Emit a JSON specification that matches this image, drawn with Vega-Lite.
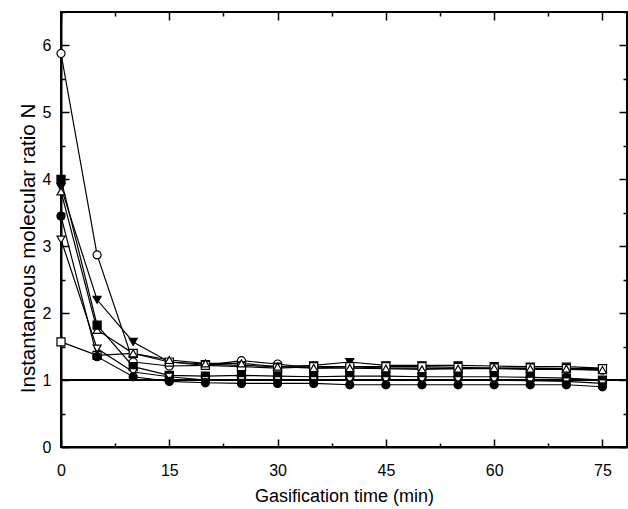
{
  "$schema": "https://vega.github.io/schema/vega-lite/v6.json",
  "autosize": "none",
  "width": 566,
  "height": 435,
  "padding": {"left": 61, "top": 12, "right": 1, "bottom": 62},
  "background": "white",
  "config": {
    "view": {"stroke": "black", "strokeWidth": 2},
    "axis": {
      "grid": false,
      "labelFlush": false,
      "domainColor": "black",
      "domainWidth": 2,
      "tickColor": "black",
      "tickWidth": 1.5,
      "labelFont": "Liberation Sans",
      "labelFontSize": 16,
      "labelColor": "black",
      "titleFont": "Liberation Sans",
      "titleFontSize": 18,
      "titleFontWeight": "normal",
      "titleColor": "black"
    }
  },
  "data": {
    "values": [
      {"s":"S1","t":0,"v":5.88},{"s":"S1","t":5,"v":2.87},{"s":"S1","t":10,"v":1.27},{"s":"S1","t":15,"v":1.21},{"s":"S1","t":20,"v":1.22},{"s":"S1","t":25,"v":1.29},{"s":"S1","t":30,"v":1.24},{"s":"S1","t":35,"v":1.18},{"s":"S1","t":40,"v":1.2},{"s":"S1","t":45,"v":1.18},{"s":"S1","t":50,"v":1.18},{"s":"S1","t":55,"v":1.17},{"s":"S1","t":60,"v":1.17},{"s":"S1","t":65,"v":1.16},{"s":"S1","t":70,"v":1.16},{"s":"S1","t":75,"v":1.15},
      {"s":"S2","t":0,"v":3.88},{"s":"S2","t":5,"v":2.2},{"s":"S2","t":10,"v":1.57},{"s":"S2","t":15,"v":1.27},{"s":"S2","t":20,"v":1.24},{"s":"S2","t":25,"v":1.22},{"s":"S2","t":30,"v":1.2},{"s":"S2","t":35,"v":1.22},{"s":"S2","t":40,"v":1.27},{"s":"S2","t":45,"v":1.22},{"s":"S2","t":50,"v":1.22},{"s":"S2","t":55,"v":1.22},{"s":"S2","t":60,"v":1.21},{"s":"S2","t":65,"v":1.2},{"s":"S2","t":70,"v":1.2},{"s":"S2","t":75,"v":1.18},
      {"s":"S3","t":0,"v":1.57},{"s":"S3","t":5,"v":1.37},{"s":"S3","t":10,"v":1.4},{"s":"S3","t":15,"v":1.27},{"s":"S3","t":20,"v":1.22},{"s":"S3","t":25,"v":1.2},{"s":"S3","t":30,"v":1.18},{"s":"S3","t":35,"v":1.2},{"s":"S3","t":40,"v":1.2},{"s":"S3","t":45,"v":1.2},{"s":"S3","t":50,"v":1.2},{"s":"S3","t":55,"v":1.19},{"s":"S3","t":60,"v":1.18},{"s":"S3","t":65,"v":1.18},{"s":"S3","t":70,"v":1.17},{"s":"S3","t":75,"v":1.17},
      {"s":"S4","t":0,"v":3.82},{"s":"S4","t":5,"v":1.75},{"s":"S4","t":10,"v":1.4},{"s":"S4","t":15,"v":1.3},{"s":"S4","t":20,"v":1.25},{"s":"S4","t":25,"v":1.25},{"s":"S4","t":30,"v":1.2},{"s":"S4","t":35,"v":1.18},{"s":"S4","t":40,"v":1.18},{"s":"S4","t":45,"v":1.17},{"s":"S4","t":50,"v":1.16},{"s":"S4","t":55,"v":1.17},{"s":"S4","t":60,"v":1.18},{"s":"S4","t":65,"v":1.17},{"s":"S4","t":70,"v":1.17},{"s":"S4","t":75,"v":1.15},
      {"s":"S5","t":0,"v":4.0},{"s":"S5","t":5,"v":1.82},{"s":"S5","t":10,"v":1.2},{"s":"S5","t":15,"v":1.07},{"s":"S5","t":20,"v":1.06},{"s":"S5","t":25,"v":1.07},{"s":"S5","t":30,"v":1.06},{"s":"S5","t":35,"v":1.05},{"s":"S5","t":40,"v":1.06},{"s":"S5","t":45,"v":1.06},{"s":"S5","t":50,"v":1.05},{"s":"S5","t":55,"v":1.05},{"s":"S5","t":60,"v":1.05},{"s":"S5","t":65,"v":1.04},{"s":"S5","t":70,"v":1.03},{"s":"S5","t":75,"v":1.0},
      {"s":"S6","t":0,"v":3.1},{"s":"S6","t":5,"v":1.47},{"s":"S6","t":10,"v":1.12},{"s":"S6","t":15,"v":1.05},{"s":"S6","t":20,"v":1.0},{"s":"S6","t":25,"v":1.0},{"s":"S6","t":30,"v":1.0},{"s":"S6","t":35,"v":1.0},{"s":"S6","t":40,"v":1.0},{"s":"S6","t":45,"v":1.0},{"s":"S6","t":50,"v":1.0},{"s":"S6","t":55,"v":1.0},{"s":"S6","t":60,"v":1.0},{"s":"S6","t":65,"v":0.99},{"s":"S6","t":70,"v":0.98},{"s":"S6","t":75,"v":0.95},
      {"s":"S7","t":0,"v":3.45},{"s":"S7","t":5,"v":1.35},{"s":"S7","t":10,"v":1.05},{"s":"S7","t":15,"v":0.98},{"s":"S7","t":20,"v":0.96},{"s":"S7","t":25,"v":0.95},{"s":"S7","t":30,"v":0.95},{"s":"S7","t":35,"v":0.95},{"s":"S7","t":40,"v":0.93},{"s":"S7","t":45,"v":0.93},{"s":"S7","t":50,"v":0.93},{"s":"S7","t":55,"v":0.93},{"s":"S7","t":60,"v":0.93},{"s":"S7","t":65,"v":0.93},{"s":"S7","t":70,"v":0.93},{"s":"S7","t":75,"v":0.9}
    ]
  },
  "resolve": {"axis": {"x": "independent", "y": "independent"}},
  "layer": [
    {
      "mark": {"type": "rule", "color": "black", "strokeWidth": 1.5},
      "encoding": {
        "y": {"datum": 1, "type": "quantitative", "scale": {"domain": [0, 6.5], "nice": false},
          "axis": {"orient": "right", "labels": false, "title": null, "domain": false,
            "values": [0,0.5,1,1.5,2,2.5,3,3.5,4,4.5,5,5.5,6,6.5],
            "tickSize": {"condition": {"test": "datum.value % 1 === 0", "value": -8}, "value": -4}}}
      }
    },
    {
      "mark": {"type": "line", "color": "black", "strokeWidth": 1.2},
      "encoding": {
        "x": {"field": "t", "type": "quantitative", "scale": {"domain": [0, 78.4], "nice": false},
          "axis": {"orient": "top", "labels": false, "title": null, "domain": false,
            "values": [0,7.5,15,22.5,30,37.5,45,52.5,60,67.5,75],
            "tickSize": {"condition": {"test": "datum.value % 15 === 0", "value": -8}, "value": -4}}},
        "y": {"field": "v", "type": "quantitative", "scale": {"domain": [0, 6.5], "nice": false},
          "axis": {"title": "Instantaneous molecular ratio N",
            "values": [0,0.5,1,1.5,2,2.5,3,3.5,4,4.5,5,5.5,6,6.5],
            "labelExpr": "datum.value % 1 === 0 ? format(datum.value, 'd') : ''",
            "tickSize": {"condition": {"test": "datum.value % 1 === 0", "value": -8}, "value": -4},
            "labelPadding": 18, "titlePadding": 4, "titleFontSize": 20.5, "titleY": 236}},
        "detail": {"field": "s"}
      }
    },
    {
      "mark": {"type": "point", "size": 65, "stroke": "black", "strokeWidth": 1.2, "opacity": 1, "filled": false},
      "encoding": {
        "x": {"field": "t", "type": "quantitative",
          "axis": {"title": "Gasification time (min)",
            "values": [0,7.5,15,22.5,30,37.5,45,52.5,60,67.5,75],
            "labelExpr": "datum.value % 15 === 0 ? format(datum.value, 'd') : ''",
            "tickSize": {"condition": {"test": "datum.value % 15 === 0", "value": -8}, "value": -4},
            "labelPadding": 23, "titlePadding": 9}},
        "y": {"field": "v", "type": "quantitative", "axis": null},
        "shape": {"field": "s", "type": "nominal", "legend": null,
          "scale": {"domain": ["S1","S2","S3","S4","S5","S6","S7"],
            "range": ["circle","triangle-down","square","triangle-up","square","triangle-down","circle"]}},
        "fill": {"field": "s", "type": "nominal", "legend": null,
          "scale": {"domain": ["S1","S2","S3","S4","S5","S6","S7"],
            "range": ["white","black","white","white","black","white","black"]}}
      }
    }
  ]
}
